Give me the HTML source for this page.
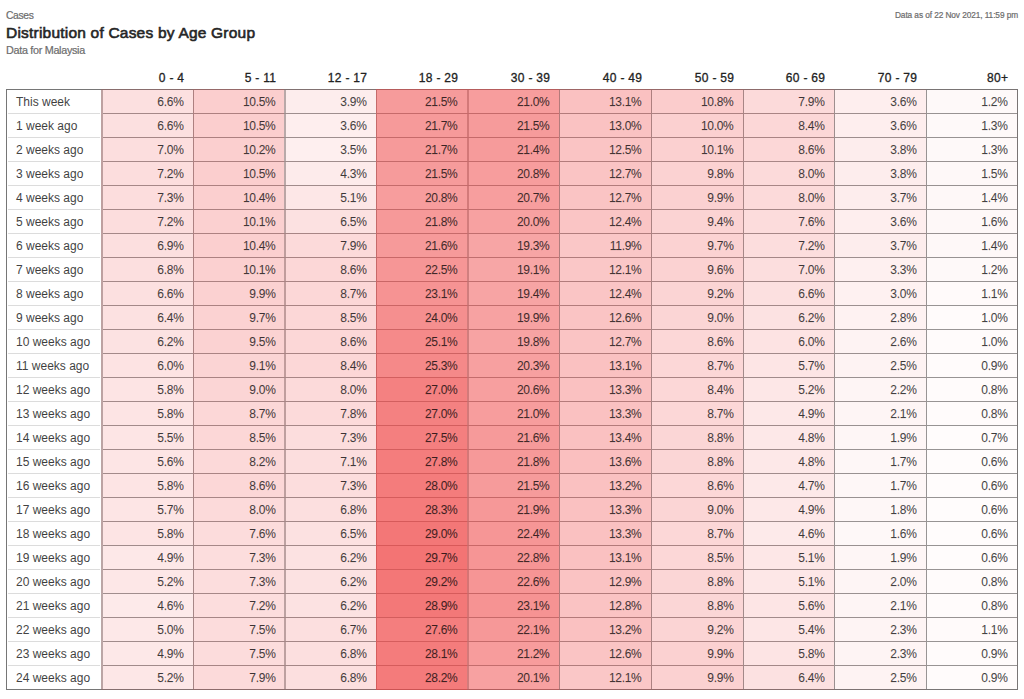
<!DOCTYPE html><html><head><meta charset="utf-8"><style>
html,body{margin:0;padding:0;background:#fff;width:1024px;height:699px;overflow:hidden;position:relative;font-family:"Liberation Sans",sans-serif;}
.a{position:absolute;}
.t{position:absolute;white-space:nowrap;line-height:1;}
.cell{position:absolute;}
.num{position:absolute;white-space:nowrap;font-size:12px;line-height:24px;height:24px;text-align:right;color:rgba(0,0,0,0.72);letter-spacing:-0.3px;-webkit-text-stroke:0.25px rgba(0,0,0,0.35);}
.lab{position:absolute;white-space:nowrap;font-size:12px;line-height:24px;height:24px;color:rgba(0,0,0,0.74);left:16px;letter-spacing:0px;-webkit-text-stroke:0.2px rgba(0,0,0,0.3);}
.hd{position:absolute;white-space:nowrap;font-size:12px;font-weight:normal;line-height:14px;text-align:right;color:#222;letter-spacing:0.3px;-webkit-text-stroke:0.3px #222;}
.vl{position:absolute;width:1px;background:rgba(0,0,0,0.40);}
.hl{position:absolute;height:1px;background:rgba(0,0,0,0.38);}
.hll{position:absolute;height:1px;background:#dcdcdc;}
</style></head><body>

<div class="t" style="left:6px;top:11.4px;font-size:10.3px;letter-spacing:-0.35px;color:#6c6c6c;-webkit-text-stroke:0.2px #6c6c6c;">Cases</div>
<div class="t" style="left:6px;top:24.6px;font-size:15.5px;letter-spacing:0.21px;font-weight:normal;color:#262626;-webkit-text-stroke:0.6px #262626;">Distribution of Cases by Age Group</div>
<div class="t" style="left:6px;top:45.2px;font-size:10.8px;letter-spacing:-0.3px;color:#6c6c6c;-webkit-text-stroke:0.2px #6c6c6c;">Data for Malaysia</div>
<div class="t" style="right:6px;top:11px;font-size:8.3px;letter-spacing:-0.085px;color:#6c6c6c;-webkit-text-stroke:0.2px #6c6c6c;">Data as of 22 Nov 2021, 11:59 pm</div>
<div class="a" style="left:6px;top:89px;width:1012px;height:1px;background:#767676"></div>
<div class="a" style="left:6px;top:689px;width:1012px;height:1px;background:#767676"></div>
<div class="a" style="left:6px;top:89px;width:1px;height:601px;background:#767676"></div>
<div class="a" style="left:1017px;top:89px;width:1px;height:601px;background:#767676"></div>
<div class="a" style="left:101px;top:90px;width:2px;height:599px;background:#b4b4b4"></div>
<div class="a" style="left:193px;top:90px;width:1px;height:599px;background:#969696"></div>
<div class="a" style="left:284px;top:90px;width:2px;height:599px;background:#b4b4b4"></div>
<div class="a" style="left:376px;top:90px;width:1px;height:599px;background:#969696"></div>
<div class="a" style="left:467px;top:90px;width:2px;height:599px;background:#b4b4b4"></div>
<div class="a" style="left:559px;top:90px;width:1px;height:599px;background:#969696"></div>
<div class="a" style="left:651px;top:90px;width:1px;height:599px;background:#969696"></div>
<div class="a" style="left:743px;top:90px;width:1px;height:599px;background:#969696"></div>
<div class="a" style="left:834px;top:90px;width:1px;height:599px;background:#969696"></div>
<div class="a" style="left:926px;top:90px;width:1px;height:599px;background:#969696"></div>
<div class="a" style="left:8px;top:113px;width:92px;height:1px;background:#dcdcdc"></div>
<div class="a" style="left:103px;top:113px;width:914px;height:1px;background:#969696"></div>
<div class="a" style="left:8px;top:137px;width:92px;height:1px;background:#dcdcdc"></div>
<div class="a" style="left:103px;top:137px;width:914px;height:1px;background:#969696"></div>
<div class="a" style="left:8px;top:161px;width:92px;height:1px;background:#dcdcdc"></div>
<div class="a" style="left:103px;top:161px;width:914px;height:1px;background:#969696"></div>
<div class="a" style="left:8px;top:185px;width:92px;height:1px;background:#dcdcdc"></div>
<div class="a" style="left:103px;top:185px;width:914px;height:1px;background:#969696"></div>
<div class="a" style="left:8px;top:209px;width:92px;height:1px;background:#dcdcdc"></div>
<div class="a" style="left:103px;top:209px;width:914px;height:1px;background:#969696"></div>
<div class="a" style="left:8px;top:233px;width:92px;height:1px;background:#dcdcdc"></div>
<div class="a" style="left:103px;top:233px;width:914px;height:1px;background:#969696"></div>
<div class="a" style="left:8px;top:257px;width:92px;height:1px;background:#dcdcdc"></div>
<div class="a" style="left:103px;top:257px;width:914px;height:1px;background:#969696"></div>
<div class="a" style="left:8px;top:281px;width:92px;height:1px;background:#dcdcdc"></div>
<div class="a" style="left:103px;top:281px;width:914px;height:1px;background:#969696"></div>
<div class="a" style="left:8px;top:305px;width:92px;height:1px;background:#dcdcdc"></div>
<div class="a" style="left:103px;top:305px;width:914px;height:1px;background:#969696"></div>
<div class="a" style="left:8px;top:329px;width:92px;height:1px;background:#dcdcdc"></div>
<div class="a" style="left:103px;top:329px;width:914px;height:1px;background:#969696"></div>
<div class="a" style="left:8px;top:353px;width:92px;height:1px;background:#dcdcdc"></div>
<div class="a" style="left:103px;top:353px;width:914px;height:1px;background:#969696"></div>
<div class="a" style="left:8px;top:377px;width:92px;height:1px;background:#dcdcdc"></div>
<div class="a" style="left:103px;top:377px;width:914px;height:1px;background:#969696"></div>
<div class="a" style="left:8px;top:401px;width:92px;height:1px;background:#dcdcdc"></div>
<div class="a" style="left:103px;top:401px;width:914px;height:1px;background:#969696"></div>
<div class="a" style="left:8px;top:425px;width:92px;height:1px;background:#dcdcdc"></div>
<div class="a" style="left:103px;top:425px;width:914px;height:1px;background:#969696"></div>
<div class="a" style="left:8px;top:449px;width:92px;height:1px;background:#dcdcdc"></div>
<div class="a" style="left:103px;top:449px;width:914px;height:1px;background:#969696"></div>
<div class="a" style="left:8px;top:473px;width:92px;height:1px;background:#dcdcdc"></div>
<div class="a" style="left:103px;top:473px;width:914px;height:1px;background:#969696"></div>
<div class="a" style="left:8px;top:497px;width:92px;height:1px;background:#dcdcdc"></div>
<div class="a" style="left:103px;top:497px;width:914px;height:1px;background:#969696"></div>
<div class="a" style="left:8px;top:521px;width:92px;height:1px;background:#dcdcdc"></div>
<div class="a" style="left:103px;top:521px;width:914px;height:1px;background:#969696"></div>
<div class="a" style="left:8px;top:545px;width:92px;height:1px;background:#dcdcdc"></div>
<div class="a" style="left:103px;top:545px;width:914px;height:1px;background:#969696"></div>
<div class="a" style="left:8px;top:569px;width:92px;height:1px;background:#dcdcdc"></div>
<div class="a" style="left:103px;top:569px;width:914px;height:1px;background:#969696"></div>
<div class="a" style="left:8px;top:593px;width:92px;height:1px;background:#dcdcdc"></div>
<div class="a" style="left:103px;top:593px;width:914px;height:1px;background:#969696"></div>
<div class="a" style="left:8px;top:617px;width:92px;height:1px;background:#dcdcdc"></div>
<div class="a" style="left:103px;top:617px;width:914px;height:1px;background:#969696"></div>
<div class="a" style="left:8px;top:641px;width:92px;height:1px;background:#dcdcdc"></div>
<div class="a" style="left:103px;top:641px;width:914px;height:1px;background:#969696"></div>
<div class="a" style="left:8px;top:665px;width:92px;height:1px;background:#dcdcdc"></div>
<div class="a" style="left:103px;top:665px;width:914px;height:1px;background:#969696"></div>
<div class="a" style="left:101px;top:89px;width:92px;height:24px;background:rgba(239,68,68,0.1650)"></div>
<div class="a" style="left:193px;top:89px;width:91px;height:24px;background:rgba(239,68,68,0.2625)"></div>
<div class="a" style="left:284px;top:89px;width:92px;height:24px;background:rgba(239,68,68,0.0975)"></div>
<div class="a" style="left:376px;top:89px;width:91px;height:24px;background:rgba(239,68,68,0.5375)"></div>
<div class="a" style="left:467px;top:89px;width:92px;height:24px;background:rgba(239,68,68,0.5250)"></div>
<div class="a" style="left:559px;top:89px;width:92px;height:24px;background:rgba(239,68,68,0.3275)"></div>
<div class="a" style="left:651px;top:89px;width:92px;height:24px;background:rgba(239,68,68,0.2700)"></div>
<div class="a" style="left:743px;top:89px;width:91px;height:24px;background:rgba(239,68,68,0.1975)"></div>
<div class="a" style="left:834px;top:89px;width:92px;height:24px;background:rgba(239,68,68,0.0900)"></div>
<div class="a" style="left:926px;top:89px;width:92px;height:24px;background:rgba(239,68,68,0.0300)"></div>
<div class="a" style="left:101px;top:113px;width:92px;height:24px;background:rgba(239,68,68,0.1650)"></div>
<div class="a" style="left:193px;top:113px;width:91px;height:24px;background:rgba(239,68,68,0.2625)"></div>
<div class="a" style="left:284px;top:113px;width:92px;height:24px;background:rgba(239,68,68,0.0900)"></div>
<div class="a" style="left:376px;top:113px;width:91px;height:24px;background:rgba(239,68,68,0.5425)"></div>
<div class="a" style="left:467px;top:113px;width:92px;height:24px;background:rgba(239,68,68,0.5375)"></div>
<div class="a" style="left:559px;top:113px;width:92px;height:24px;background:rgba(239,68,68,0.3250)"></div>
<div class="a" style="left:651px;top:113px;width:92px;height:24px;background:rgba(239,68,68,0.2500)"></div>
<div class="a" style="left:743px;top:113px;width:91px;height:24px;background:rgba(239,68,68,0.2100)"></div>
<div class="a" style="left:834px;top:113px;width:92px;height:24px;background:rgba(239,68,68,0.0900)"></div>
<div class="a" style="left:926px;top:113px;width:92px;height:24px;background:rgba(239,68,68,0.0325)"></div>
<div class="a" style="left:101px;top:137px;width:92px;height:24px;background:rgba(239,68,68,0.1750)"></div>
<div class="a" style="left:193px;top:137px;width:91px;height:24px;background:rgba(239,68,68,0.2550)"></div>
<div class="a" style="left:284px;top:137px;width:92px;height:24px;background:rgba(239,68,68,0.0875)"></div>
<div class="a" style="left:376px;top:137px;width:91px;height:24px;background:rgba(239,68,68,0.5425)"></div>
<div class="a" style="left:467px;top:137px;width:92px;height:24px;background:rgba(239,68,68,0.5350)"></div>
<div class="a" style="left:559px;top:137px;width:92px;height:24px;background:rgba(239,68,68,0.3125)"></div>
<div class="a" style="left:651px;top:137px;width:92px;height:24px;background:rgba(239,68,68,0.2525)"></div>
<div class="a" style="left:743px;top:137px;width:91px;height:24px;background:rgba(239,68,68,0.2150)"></div>
<div class="a" style="left:834px;top:137px;width:92px;height:24px;background:rgba(239,68,68,0.0950)"></div>
<div class="a" style="left:926px;top:137px;width:92px;height:24px;background:rgba(239,68,68,0.0325)"></div>
<div class="a" style="left:101px;top:161px;width:92px;height:24px;background:rgba(239,68,68,0.1800)"></div>
<div class="a" style="left:193px;top:161px;width:91px;height:24px;background:rgba(239,68,68,0.2625)"></div>
<div class="a" style="left:284px;top:161px;width:92px;height:24px;background:rgba(239,68,68,0.1075)"></div>
<div class="a" style="left:376px;top:161px;width:91px;height:24px;background:rgba(239,68,68,0.5375)"></div>
<div class="a" style="left:467px;top:161px;width:92px;height:24px;background:rgba(239,68,68,0.5200)"></div>
<div class="a" style="left:559px;top:161px;width:92px;height:24px;background:rgba(239,68,68,0.3175)"></div>
<div class="a" style="left:651px;top:161px;width:92px;height:24px;background:rgba(239,68,68,0.2450)"></div>
<div class="a" style="left:743px;top:161px;width:91px;height:24px;background:rgba(239,68,68,0.2000)"></div>
<div class="a" style="left:834px;top:161px;width:92px;height:24px;background:rgba(239,68,68,0.0950)"></div>
<div class="a" style="left:926px;top:161px;width:92px;height:24px;background:rgba(239,68,68,0.0375)"></div>
<div class="a" style="left:101px;top:185px;width:92px;height:24px;background:rgba(239,68,68,0.1825)"></div>
<div class="a" style="left:193px;top:185px;width:91px;height:24px;background:rgba(239,68,68,0.2600)"></div>
<div class="a" style="left:284px;top:185px;width:92px;height:24px;background:rgba(239,68,68,0.1275)"></div>
<div class="a" style="left:376px;top:185px;width:91px;height:24px;background:rgba(239,68,68,0.5200)"></div>
<div class="a" style="left:467px;top:185px;width:92px;height:24px;background:rgba(239,68,68,0.5175)"></div>
<div class="a" style="left:559px;top:185px;width:92px;height:24px;background:rgba(239,68,68,0.3175)"></div>
<div class="a" style="left:651px;top:185px;width:92px;height:24px;background:rgba(239,68,68,0.2475)"></div>
<div class="a" style="left:743px;top:185px;width:91px;height:24px;background:rgba(239,68,68,0.2000)"></div>
<div class="a" style="left:834px;top:185px;width:92px;height:24px;background:rgba(239,68,68,0.0925)"></div>
<div class="a" style="left:926px;top:185px;width:92px;height:24px;background:rgba(239,68,68,0.0350)"></div>
<div class="a" style="left:101px;top:209px;width:92px;height:24px;background:rgba(239,68,68,0.1800)"></div>
<div class="a" style="left:193px;top:209px;width:91px;height:24px;background:rgba(239,68,68,0.2525)"></div>
<div class="a" style="left:284px;top:209px;width:92px;height:24px;background:rgba(239,68,68,0.1625)"></div>
<div class="a" style="left:376px;top:209px;width:91px;height:24px;background:rgba(239,68,68,0.5450)"></div>
<div class="a" style="left:467px;top:209px;width:92px;height:24px;background:rgba(239,68,68,0.5000)"></div>
<div class="a" style="left:559px;top:209px;width:92px;height:24px;background:rgba(239,68,68,0.3100)"></div>
<div class="a" style="left:651px;top:209px;width:92px;height:24px;background:rgba(239,68,68,0.2350)"></div>
<div class="a" style="left:743px;top:209px;width:91px;height:24px;background:rgba(239,68,68,0.1900)"></div>
<div class="a" style="left:834px;top:209px;width:92px;height:24px;background:rgba(239,68,68,0.0900)"></div>
<div class="a" style="left:926px;top:209px;width:92px;height:24px;background:rgba(239,68,68,0.0400)"></div>
<div class="a" style="left:101px;top:233px;width:92px;height:24px;background:rgba(239,68,68,0.1725)"></div>
<div class="a" style="left:193px;top:233px;width:91px;height:24px;background:rgba(239,68,68,0.2600)"></div>
<div class="a" style="left:284px;top:233px;width:92px;height:24px;background:rgba(239,68,68,0.1975)"></div>
<div class="a" style="left:376px;top:233px;width:91px;height:24px;background:rgba(239,68,68,0.5400)"></div>
<div class="a" style="left:467px;top:233px;width:92px;height:24px;background:rgba(239,68,68,0.4825)"></div>
<div class="a" style="left:559px;top:233px;width:92px;height:24px;background:rgba(239,68,68,0.2975)"></div>
<div class="a" style="left:651px;top:233px;width:92px;height:24px;background:rgba(239,68,68,0.2425)"></div>
<div class="a" style="left:743px;top:233px;width:91px;height:24px;background:rgba(239,68,68,0.1800)"></div>
<div class="a" style="left:834px;top:233px;width:92px;height:24px;background:rgba(239,68,68,0.0925)"></div>
<div class="a" style="left:926px;top:233px;width:92px;height:24px;background:rgba(239,68,68,0.0350)"></div>
<div class="a" style="left:101px;top:257px;width:92px;height:24px;background:rgba(239,68,68,0.1700)"></div>
<div class="a" style="left:193px;top:257px;width:91px;height:24px;background:rgba(239,68,68,0.2525)"></div>
<div class="a" style="left:284px;top:257px;width:92px;height:24px;background:rgba(239,68,68,0.2150)"></div>
<div class="a" style="left:376px;top:257px;width:91px;height:24px;background:rgba(239,68,68,0.5625)"></div>
<div class="a" style="left:467px;top:257px;width:92px;height:24px;background:rgba(239,68,68,0.4775)"></div>
<div class="a" style="left:559px;top:257px;width:92px;height:24px;background:rgba(239,68,68,0.3025)"></div>
<div class="a" style="left:651px;top:257px;width:92px;height:24px;background:rgba(239,68,68,0.2400)"></div>
<div class="a" style="left:743px;top:257px;width:91px;height:24px;background:rgba(239,68,68,0.1750)"></div>
<div class="a" style="left:834px;top:257px;width:92px;height:24px;background:rgba(239,68,68,0.0825)"></div>
<div class="a" style="left:926px;top:257px;width:92px;height:24px;background:rgba(239,68,68,0.0300)"></div>
<div class="a" style="left:101px;top:281px;width:92px;height:24px;background:rgba(239,68,68,0.1650)"></div>
<div class="a" style="left:193px;top:281px;width:91px;height:24px;background:rgba(239,68,68,0.2475)"></div>
<div class="a" style="left:284px;top:281px;width:92px;height:24px;background:rgba(239,68,68,0.2175)"></div>
<div class="a" style="left:376px;top:281px;width:91px;height:24px;background:rgba(239,68,68,0.5775)"></div>
<div class="a" style="left:467px;top:281px;width:92px;height:24px;background:rgba(239,68,68,0.4850)"></div>
<div class="a" style="left:559px;top:281px;width:92px;height:24px;background:rgba(239,68,68,0.3100)"></div>
<div class="a" style="left:651px;top:281px;width:92px;height:24px;background:rgba(239,68,68,0.2300)"></div>
<div class="a" style="left:743px;top:281px;width:91px;height:24px;background:rgba(239,68,68,0.1650)"></div>
<div class="a" style="left:834px;top:281px;width:92px;height:24px;background:rgba(239,68,68,0.0750)"></div>
<div class="a" style="left:926px;top:281px;width:92px;height:24px;background:rgba(239,68,68,0.0275)"></div>
<div class="a" style="left:101px;top:305px;width:92px;height:24px;background:rgba(239,68,68,0.1600)"></div>
<div class="a" style="left:193px;top:305px;width:91px;height:24px;background:rgba(239,68,68,0.2425)"></div>
<div class="a" style="left:284px;top:305px;width:92px;height:24px;background:rgba(239,68,68,0.2125)"></div>
<div class="a" style="left:376px;top:305px;width:91px;height:24px;background:rgba(239,68,68,0.6000)"></div>
<div class="a" style="left:467px;top:305px;width:92px;height:24px;background:rgba(239,68,68,0.4975)"></div>
<div class="a" style="left:559px;top:305px;width:92px;height:24px;background:rgba(239,68,68,0.3150)"></div>
<div class="a" style="left:651px;top:305px;width:92px;height:24px;background:rgba(239,68,68,0.2250)"></div>
<div class="a" style="left:743px;top:305px;width:91px;height:24px;background:rgba(239,68,68,0.1550)"></div>
<div class="a" style="left:834px;top:305px;width:92px;height:24px;background:rgba(239,68,68,0.0700)"></div>
<div class="a" style="left:926px;top:305px;width:92px;height:24px;background:rgba(239,68,68,0.0250)"></div>
<div class="a" style="left:101px;top:329px;width:92px;height:24px;background:rgba(239,68,68,0.1550)"></div>
<div class="a" style="left:193px;top:329px;width:91px;height:24px;background:rgba(239,68,68,0.2375)"></div>
<div class="a" style="left:284px;top:329px;width:92px;height:24px;background:rgba(239,68,68,0.2150)"></div>
<div class="a" style="left:376px;top:329px;width:91px;height:24px;background:rgba(239,68,68,0.6275)"></div>
<div class="a" style="left:467px;top:329px;width:92px;height:24px;background:rgba(239,68,68,0.4950)"></div>
<div class="a" style="left:559px;top:329px;width:92px;height:24px;background:rgba(239,68,68,0.3175)"></div>
<div class="a" style="left:651px;top:329px;width:92px;height:24px;background:rgba(239,68,68,0.2150)"></div>
<div class="a" style="left:743px;top:329px;width:91px;height:24px;background:rgba(239,68,68,0.1500)"></div>
<div class="a" style="left:834px;top:329px;width:92px;height:24px;background:rgba(239,68,68,0.0650)"></div>
<div class="a" style="left:926px;top:329px;width:92px;height:24px;background:rgba(239,68,68,0.0250)"></div>
<div class="a" style="left:101px;top:353px;width:92px;height:24px;background:rgba(239,68,68,0.1500)"></div>
<div class="a" style="left:193px;top:353px;width:91px;height:24px;background:rgba(239,68,68,0.2275)"></div>
<div class="a" style="left:284px;top:353px;width:92px;height:24px;background:rgba(239,68,68,0.2100)"></div>
<div class="a" style="left:376px;top:353px;width:91px;height:24px;background:rgba(239,68,68,0.6325)"></div>
<div class="a" style="left:467px;top:353px;width:92px;height:24px;background:rgba(239,68,68,0.5075)"></div>
<div class="a" style="left:559px;top:353px;width:92px;height:24px;background:rgba(239,68,68,0.3275)"></div>
<div class="a" style="left:651px;top:353px;width:92px;height:24px;background:rgba(239,68,68,0.2175)"></div>
<div class="a" style="left:743px;top:353px;width:91px;height:24px;background:rgba(239,68,68,0.1425)"></div>
<div class="a" style="left:834px;top:353px;width:92px;height:24px;background:rgba(239,68,68,0.0625)"></div>
<div class="a" style="left:926px;top:353px;width:92px;height:24px;background:rgba(239,68,68,0.0225)"></div>
<div class="a" style="left:101px;top:377px;width:92px;height:24px;background:rgba(239,68,68,0.1450)"></div>
<div class="a" style="left:193px;top:377px;width:91px;height:24px;background:rgba(239,68,68,0.2250)"></div>
<div class="a" style="left:284px;top:377px;width:92px;height:24px;background:rgba(239,68,68,0.2000)"></div>
<div class="a" style="left:376px;top:377px;width:91px;height:24px;background:rgba(239,68,68,0.6750)"></div>
<div class="a" style="left:467px;top:377px;width:92px;height:24px;background:rgba(239,68,68,0.5150)"></div>
<div class="a" style="left:559px;top:377px;width:92px;height:24px;background:rgba(239,68,68,0.3325)"></div>
<div class="a" style="left:651px;top:377px;width:92px;height:24px;background:rgba(239,68,68,0.2100)"></div>
<div class="a" style="left:743px;top:377px;width:91px;height:24px;background:rgba(239,68,68,0.1300)"></div>
<div class="a" style="left:834px;top:377px;width:92px;height:24px;background:rgba(239,68,68,0.0550)"></div>
<div class="a" style="left:926px;top:377px;width:92px;height:24px;background:rgba(239,68,68,0.0200)"></div>
<div class="a" style="left:101px;top:401px;width:92px;height:24px;background:rgba(239,68,68,0.1450)"></div>
<div class="a" style="left:193px;top:401px;width:91px;height:24px;background:rgba(239,68,68,0.2175)"></div>
<div class="a" style="left:284px;top:401px;width:92px;height:24px;background:rgba(239,68,68,0.1950)"></div>
<div class="a" style="left:376px;top:401px;width:91px;height:24px;background:rgba(239,68,68,0.6750)"></div>
<div class="a" style="left:467px;top:401px;width:92px;height:24px;background:rgba(239,68,68,0.5250)"></div>
<div class="a" style="left:559px;top:401px;width:92px;height:24px;background:rgba(239,68,68,0.3325)"></div>
<div class="a" style="left:651px;top:401px;width:92px;height:24px;background:rgba(239,68,68,0.2175)"></div>
<div class="a" style="left:743px;top:401px;width:91px;height:24px;background:rgba(239,68,68,0.1225)"></div>
<div class="a" style="left:834px;top:401px;width:92px;height:24px;background:rgba(239,68,68,0.0525)"></div>
<div class="a" style="left:926px;top:401px;width:92px;height:24px;background:rgba(239,68,68,0.0200)"></div>
<div class="a" style="left:101px;top:425px;width:92px;height:24px;background:rgba(239,68,68,0.1375)"></div>
<div class="a" style="left:193px;top:425px;width:91px;height:24px;background:rgba(239,68,68,0.2125)"></div>
<div class="a" style="left:284px;top:425px;width:92px;height:24px;background:rgba(239,68,68,0.1825)"></div>
<div class="a" style="left:376px;top:425px;width:91px;height:24px;background:rgba(239,68,68,0.6875)"></div>
<div class="a" style="left:467px;top:425px;width:92px;height:24px;background:rgba(239,68,68,0.5400)"></div>
<div class="a" style="left:559px;top:425px;width:92px;height:24px;background:rgba(239,68,68,0.3350)"></div>
<div class="a" style="left:651px;top:425px;width:92px;height:24px;background:rgba(239,68,68,0.2200)"></div>
<div class="a" style="left:743px;top:425px;width:91px;height:24px;background:rgba(239,68,68,0.1200)"></div>
<div class="a" style="left:834px;top:425px;width:92px;height:24px;background:rgba(239,68,68,0.0475)"></div>
<div class="a" style="left:926px;top:425px;width:92px;height:24px;background:rgba(239,68,68,0.0175)"></div>
<div class="a" style="left:101px;top:449px;width:92px;height:24px;background:rgba(239,68,68,0.1400)"></div>
<div class="a" style="left:193px;top:449px;width:91px;height:24px;background:rgba(239,68,68,0.2050)"></div>
<div class="a" style="left:284px;top:449px;width:92px;height:24px;background:rgba(239,68,68,0.1775)"></div>
<div class="a" style="left:376px;top:449px;width:91px;height:24px;background:rgba(239,68,68,0.6950)"></div>
<div class="a" style="left:467px;top:449px;width:92px;height:24px;background:rgba(239,68,68,0.5450)"></div>
<div class="a" style="left:559px;top:449px;width:92px;height:24px;background:rgba(239,68,68,0.3400)"></div>
<div class="a" style="left:651px;top:449px;width:92px;height:24px;background:rgba(239,68,68,0.2200)"></div>
<div class="a" style="left:743px;top:449px;width:91px;height:24px;background:rgba(239,68,68,0.1200)"></div>
<div class="a" style="left:834px;top:449px;width:92px;height:24px;background:rgba(239,68,68,0.0425)"></div>
<div class="a" style="left:926px;top:449px;width:92px;height:24px;background:rgba(239,68,68,0.0150)"></div>
<div class="a" style="left:101px;top:473px;width:92px;height:24px;background:rgba(239,68,68,0.1450)"></div>
<div class="a" style="left:193px;top:473px;width:91px;height:24px;background:rgba(239,68,68,0.2150)"></div>
<div class="a" style="left:284px;top:473px;width:92px;height:24px;background:rgba(239,68,68,0.1825)"></div>
<div class="a" style="left:376px;top:473px;width:91px;height:24px;background:rgba(239,68,68,0.7000)"></div>
<div class="a" style="left:467px;top:473px;width:92px;height:24px;background:rgba(239,68,68,0.5375)"></div>
<div class="a" style="left:559px;top:473px;width:92px;height:24px;background:rgba(239,68,68,0.3300)"></div>
<div class="a" style="left:651px;top:473px;width:92px;height:24px;background:rgba(239,68,68,0.2150)"></div>
<div class="a" style="left:743px;top:473px;width:91px;height:24px;background:rgba(239,68,68,0.1175)"></div>
<div class="a" style="left:834px;top:473px;width:92px;height:24px;background:rgba(239,68,68,0.0425)"></div>
<div class="a" style="left:926px;top:473px;width:92px;height:24px;background:rgba(239,68,68,0.0150)"></div>
<div class="a" style="left:101px;top:497px;width:92px;height:24px;background:rgba(239,68,68,0.1425)"></div>
<div class="a" style="left:193px;top:497px;width:91px;height:24px;background:rgba(239,68,68,0.2000)"></div>
<div class="a" style="left:284px;top:497px;width:92px;height:24px;background:rgba(239,68,68,0.1700)"></div>
<div class="a" style="left:376px;top:497px;width:91px;height:24px;background:rgba(239,68,68,0.7075)"></div>
<div class="a" style="left:467px;top:497px;width:92px;height:24px;background:rgba(239,68,68,0.5475)"></div>
<div class="a" style="left:559px;top:497px;width:92px;height:24px;background:rgba(239,68,68,0.3325)"></div>
<div class="a" style="left:651px;top:497px;width:92px;height:24px;background:rgba(239,68,68,0.2250)"></div>
<div class="a" style="left:743px;top:497px;width:91px;height:24px;background:rgba(239,68,68,0.1225)"></div>
<div class="a" style="left:834px;top:497px;width:92px;height:24px;background:rgba(239,68,68,0.0450)"></div>
<div class="a" style="left:926px;top:497px;width:92px;height:24px;background:rgba(239,68,68,0.0150)"></div>
<div class="a" style="left:101px;top:521px;width:92px;height:24px;background:rgba(239,68,68,0.1450)"></div>
<div class="a" style="left:193px;top:521px;width:91px;height:24px;background:rgba(239,68,68,0.1900)"></div>
<div class="a" style="left:284px;top:521px;width:92px;height:24px;background:rgba(239,68,68,0.1625)"></div>
<div class="a" style="left:376px;top:521px;width:91px;height:24px;background:rgba(239,68,68,0.7250)"></div>
<div class="a" style="left:467px;top:521px;width:92px;height:24px;background:rgba(239,68,68,0.5600)"></div>
<div class="a" style="left:559px;top:521px;width:92px;height:24px;background:rgba(239,68,68,0.3325)"></div>
<div class="a" style="left:651px;top:521px;width:92px;height:24px;background:rgba(239,68,68,0.2175)"></div>
<div class="a" style="left:743px;top:521px;width:91px;height:24px;background:rgba(239,68,68,0.1150)"></div>
<div class="a" style="left:834px;top:521px;width:92px;height:24px;background:rgba(239,68,68,0.0400)"></div>
<div class="a" style="left:926px;top:521px;width:92px;height:24px;background:rgba(239,68,68,0.0150)"></div>
<div class="a" style="left:101px;top:545px;width:92px;height:24px;background:rgba(239,68,68,0.1225)"></div>
<div class="a" style="left:193px;top:545px;width:91px;height:24px;background:rgba(239,68,68,0.1825)"></div>
<div class="a" style="left:284px;top:545px;width:92px;height:24px;background:rgba(239,68,68,0.1550)"></div>
<div class="a" style="left:376px;top:545px;width:91px;height:24px;background:rgba(239,68,68,0.7425)"></div>
<div class="a" style="left:467px;top:545px;width:92px;height:24px;background:rgba(239,68,68,0.5700)"></div>
<div class="a" style="left:559px;top:545px;width:92px;height:24px;background:rgba(239,68,68,0.3275)"></div>
<div class="a" style="left:651px;top:545px;width:92px;height:24px;background:rgba(239,68,68,0.2125)"></div>
<div class="a" style="left:743px;top:545px;width:91px;height:24px;background:rgba(239,68,68,0.1275)"></div>
<div class="a" style="left:834px;top:545px;width:92px;height:24px;background:rgba(239,68,68,0.0475)"></div>
<div class="a" style="left:926px;top:545px;width:92px;height:24px;background:rgba(239,68,68,0.0150)"></div>
<div class="a" style="left:101px;top:569px;width:92px;height:24px;background:rgba(239,68,68,0.1300)"></div>
<div class="a" style="left:193px;top:569px;width:91px;height:24px;background:rgba(239,68,68,0.1825)"></div>
<div class="a" style="left:284px;top:569px;width:92px;height:24px;background:rgba(239,68,68,0.1550)"></div>
<div class="a" style="left:376px;top:569px;width:91px;height:24px;background:rgba(239,68,68,0.7300)"></div>
<div class="a" style="left:467px;top:569px;width:92px;height:24px;background:rgba(239,68,68,0.5650)"></div>
<div class="a" style="left:559px;top:569px;width:92px;height:24px;background:rgba(239,68,68,0.3225)"></div>
<div class="a" style="left:651px;top:569px;width:92px;height:24px;background:rgba(239,68,68,0.2200)"></div>
<div class="a" style="left:743px;top:569px;width:91px;height:24px;background:rgba(239,68,68,0.1275)"></div>
<div class="a" style="left:834px;top:569px;width:92px;height:24px;background:rgba(239,68,68,0.0500)"></div>
<div class="a" style="left:926px;top:569px;width:92px;height:24px;background:rgba(239,68,68,0.0200)"></div>
<div class="a" style="left:101px;top:593px;width:92px;height:24px;background:rgba(239,68,68,0.1150)"></div>
<div class="a" style="left:193px;top:593px;width:91px;height:24px;background:rgba(239,68,68,0.1800)"></div>
<div class="a" style="left:284px;top:593px;width:92px;height:24px;background:rgba(239,68,68,0.1550)"></div>
<div class="a" style="left:376px;top:593px;width:91px;height:24px;background:rgba(239,68,68,0.7225)"></div>
<div class="a" style="left:467px;top:593px;width:92px;height:24px;background:rgba(239,68,68,0.5775)"></div>
<div class="a" style="left:559px;top:593px;width:92px;height:24px;background:rgba(239,68,68,0.3200)"></div>
<div class="a" style="left:651px;top:593px;width:92px;height:24px;background:rgba(239,68,68,0.2200)"></div>
<div class="a" style="left:743px;top:593px;width:91px;height:24px;background:rgba(239,68,68,0.1400)"></div>
<div class="a" style="left:834px;top:593px;width:92px;height:24px;background:rgba(239,68,68,0.0525)"></div>
<div class="a" style="left:926px;top:593px;width:92px;height:24px;background:rgba(239,68,68,0.0200)"></div>
<div class="a" style="left:101px;top:617px;width:92px;height:24px;background:rgba(239,68,68,0.1250)"></div>
<div class="a" style="left:193px;top:617px;width:91px;height:24px;background:rgba(239,68,68,0.1875)"></div>
<div class="a" style="left:284px;top:617px;width:92px;height:24px;background:rgba(239,68,68,0.1675)"></div>
<div class="a" style="left:376px;top:617px;width:91px;height:24px;background:rgba(239,68,68,0.6900)"></div>
<div class="a" style="left:467px;top:617px;width:92px;height:24px;background:rgba(239,68,68,0.5525)"></div>
<div class="a" style="left:559px;top:617px;width:92px;height:24px;background:rgba(239,68,68,0.3300)"></div>
<div class="a" style="left:651px;top:617px;width:92px;height:24px;background:rgba(239,68,68,0.2300)"></div>
<div class="a" style="left:743px;top:617px;width:91px;height:24px;background:rgba(239,68,68,0.1350)"></div>
<div class="a" style="left:834px;top:617px;width:92px;height:24px;background:rgba(239,68,68,0.0575)"></div>
<div class="a" style="left:926px;top:617px;width:92px;height:24px;background:rgba(239,68,68,0.0275)"></div>
<div class="a" style="left:101px;top:641px;width:92px;height:24px;background:rgba(239,68,68,0.1225)"></div>
<div class="a" style="left:193px;top:641px;width:91px;height:24px;background:rgba(239,68,68,0.1875)"></div>
<div class="a" style="left:284px;top:641px;width:92px;height:24px;background:rgba(239,68,68,0.1700)"></div>
<div class="a" style="left:376px;top:641px;width:91px;height:24px;background:rgba(239,68,68,0.7025)"></div>
<div class="a" style="left:467px;top:641px;width:92px;height:24px;background:rgba(239,68,68,0.5300)"></div>
<div class="a" style="left:559px;top:641px;width:92px;height:24px;background:rgba(239,68,68,0.3150)"></div>
<div class="a" style="left:651px;top:641px;width:92px;height:24px;background:rgba(239,68,68,0.2475)"></div>
<div class="a" style="left:743px;top:641px;width:91px;height:24px;background:rgba(239,68,68,0.1450)"></div>
<div class="a" style="left:834px;top:641px;width:92px;height:24px;background:rgba(239,68,68,0.0575)"></div>
<div class="a" style="left:926px;top:641px;width:92px;height:24px;background:rgba(239,68,68,0.0225)"></div>
<div class="a" style="left:101px;top:665px;width:92px;height:25px;background:rgba(239,68,68,0.1300)"></div>
<div class="a" style="left:193px;top:665px;width:91px;height:25px;background:rgba(239,68,68,0.1975)"></div>
<div class="a" style="left:284px;top:665px;width:92px;height:25px;background:rgba(239,68,68,0.1700)"></div>
<div class="a" style="left:376px;top:665px;width:91px;height:25px;background:rgba(239,68,68,0.7050)"></div>
<div class="a" style="left:467px;top:665px;width:92px;height:25px;background:rgba(239,68,68,0.5025)"></div>
<div class="a" style="left:559px;top:665px;width:92px;height:25px;background:rgba(239,68,68,0.3025)"></div>
<div class="a" style="left:651px;top:665px;width:92px;height:25px;background:rgba(239,68,68,0.2475)"></div>
<div class="a" style="left:743px;top:665px;width:91px;height:25px;background:rgba(239,68,68,0.1600)"></div>
<div class="a" style="left:834px;top:665px;width:92px;height:25px;background:rgba(239,68,68,0.0625)"></div>
<div class="a" style="left:926px;top:665px;width:92px;height:25px;background:rgba(239,68,68,0.0225)"></div>
<div class="hd" style="top:71px;right:839.7px;">0 - 4</div>
<div class="hd" style="top:71px;right:747.7px;">5 - 11</div>
<div class="hd" style="top:71px;right:656.7px;">12 - 17</div>
<div class="hd" style="top:71px;right:565.7px;">18 - 29</div>
<div class="hd" style="top:71px;right:473.7px;">30 - 39</div>
<div class="hd" style="top:71px;right:381.7px;">40 - 49</div>
<div class="hd" style="top:71px;right:289.7px;">50 - 59</div>
<div class="hd" style="top:71px;right:198.7px;">60 - 69</div>
<div class="hd" style="top:71px;right:106.7px;">70 - 79</div>
<div class="hd" style="top:71px;right:15.7px;">80+</div>
<div class="lab" style="top:90px;">This week</div>
<div class="num" style="top:90px;right:840.5px;">6.6%</div>
<div class="num" style="top:90px;right:748.5px;">10.5%</div>
<div class="num" style="top:90px;right:657.5px;">3.9%</div>
<div class="num" style="top:90px;right:566.5px;">21.5%</div>
<div class="num" style="top:90px;right:474.5px;">21.0%</div>
<div class="num" style="top:90px;right:382.5px;">13.1%</div>
<div class="num" style="top:90px;right:290.5px;">10.8%</div>
<div class="num" style="top:90px;right:199.5px;">7.9%</div>
<div class="num" style="top:90px;right:107.5px;">3.6%</div>
<div class="num" style="top:90px;right:16.5px;">1.2%</div>
<div class="lab" style="top:114px;">1 week ago</div>
<div class="num" style="top:114px;right:840.5px;">6.6%</div>
<div class="num" style="top:114px;right:748.5px;">10.5%</div>
<div class="num" style="top:114px;right:657.5px;">3.6%</div>
<div class="num" style="top:114px;right:566.5px;">21.7%</div>
<div class="num" style="top:114px;right:474.5px;">21.5%</div>
<div class="num" style="top:114px;right:382.5px;">13.0%</div>
<div class="num" style="top:114px;right:290.5px;">10.0%</div>
<div class="num" style="top:114px;right:199.5px;">8.4%</div>
<div class="num" style="top:114px;right:107.5px;">3.6%</div>
<div class="num" style="top:114px;right:16.5px;">1.3%</div>
<div class="lab" style="top:138px;">2 weeks ago</div>
<div class="num" style="top:138px;right:840.5px;">7.0%</div>
<div class="num" style="top:138px;right:748.5px;">10.2%</div>
<div class="num" style="top:138px;right:657.5px;">3.5%</div>
<div class="num" style="top:138px;right:566.5px;">21.7%</div>
<div class="num" style="top:138px;right:474.5px;">21.4%</div>
<div class="num" style="top:138px;right:382.5px;">12.5%</div>
<div class="num" style="top:138px;right:290.5px;">10.1%</div>
<div class="num" style="top:138px;right:199.5px;">8.6%</div>
<div class="num" style="top:138px;right:107.5px;">3.8%</div>
<div class="num" style="top:138px;right:16.5px;">1.3%</div>
<div class="lab" style="top:162px;">3 weeks ago</div>
<div class="num" style="top:162px;right:840.5px;">7.2%</div>
<div class="num" style="top:162px;right:748.5px;">10.5%</div>
<div class="num" style="top:162px;right:657.5px;">4.3%</div>
<div class="num" style="top:162px;right:566.5px;">21.5%</div>
<div class="num" style="top:162px;right:474.5px;">20.8%</div>
<div class="num" style="top:162px;right:382.5px;">12.7%</div>
<div class="num" style="top:162px;right:290.5px;">9.8%</div>
<div class="num" style="top:162px;right:199.5px;">8.0%</div>
<div class="num" style="top:162px;right:107.5px;">3.8%</div>
<div class="num" style="top:162px;right:16.5px;">1.5%</div>
<div class="lab" style="top:186px;">4 weeks ago</div>
<div class="num" style="top:186px;right:840.5px;">7.3%</div>
<div class="num" style="top:186px;right:748.5px;">10.4%</div>
<div class="num" style="top:186px;right:657.5px;">5.1%</div>
<div class="num" style="top:186px;right:566.5px;">20.8%</div>
<div class="num" style="top:186px;right:474.5px;">20.7%</div>
<div class="num" style="top:186px;right:382.5px;">12.7%</div>
<div class="num" style="top:186px;right:290.5px;">9.9%</div>
<div class="num" style="top:186px;right:199.5px;">8.0%</div>
<div class="num" style="top:186px;right:107.5px;">3.7%</div>
<div class="num" style="top:186px;right:16.5px;">1.4%</div>
<div class="lab" style="top:210px;">5 weeks ago</div>
<div class="num" style="top:210px;right:840.5px;">7.2%</div>
<div class="num" style="top:210px;right:748.5px;">10.1%</div>
<div class="num" style="top:210px;right:657.5px;">6.5%</div>
<div class="num" style="top:210px;right:566.5px;">21.8%</div>
<div class="num" style="top:210px;right:474.5px;">20.0%</div>
<div class="num" style="top:210px;right:382.5px;">12.4%</div>
<div class="num" style="top:210px;right:290.5px;">9.4%</div>
<div class="num" style="top:210px;right:199.5px;">7.6%</div>
<div class="num" style="top:210px;right:107.5px;">3.6%</div>
<div class="num" style="top:210px;right:16.5px;">1.6%</div>
<div class="lab" style="top:234px;">6 weeks ago</div>
<div class="num" style="top:234px;right:840.5px;">6.9%</div>
<div class="num" style="top:234px;right:748.5px;">10.4%</div>
<div class="num" style="top:234px;right:657.5px;">7.9%</div>
<div class="num" style="top:234px;right:566.5px;">21.6%</div>
<div class="num" style="top:234px;right:474.5px;">19.3%</div>
<div class="num" style="top:234px;right:382.5px;">11.9%</div>
<div class="num" style="top:234px;right:290.5px;">9.7%</div>
<div class="num" style="top:234px;right:199.5px;">7.2%</div>
<div class="num" style="top:234px;right:107.5px;">3.7%</div>
<div class="num" style="top:234px;right:16.5px;">1.4%</div>
<div class="lab" style="top:258px;">7 weeks ago</div>
<div class="num" style="top:258px;right:840.5px;">6.8%</div>
<div class="num" style="top:258px;right:748.5px;">10.1%</div>
<div class="num" style="top:258px;right:657.5px;">8.6%</div>
<div class="num" style="top:258px;right:566.5px;">22.5%</div>
<div class="num" style="top:258px;right:474.5px;">19.1%</div>
<div class="num" style="top:258px;right:382.5px;">12.1%</div>
<div class="num" style="top:258px;right:290.5px;">9.6%</div>
<div class="num" style="top:258px;right:199.5px;">7.0%</div>
<div class="num" style="top:258px;right:107.5px;">3.3%</div>
<div class="num" style="top:258px;right:16.5px;">1.2%</div>
<div class="lab" style="top:282px;">8 weeks ago</div>
<div class="num" style="top:282px;right:840.5px;">6.6%</div>
<div class="num" style="top:282px;right:748.5px;">9.9%</div>
<div class="num" style="top:282px;right:657.5px;">8.7%</div>
<div class="num" style="top:282px;right:566.5px;">23.1%</div>
<div class="num" style="top:282px;right:474.5px;">19.4%</div>
<div class="num" style="top:282px;right:382.5px;">12.4%</div>
<div class="num" style="top:282px;right:290.5px;">9.2%</div>
<div class="num" style="top:282px;right:199.5px;">6.6%</div>
<div class="num" style="top:282px;right:107.5px;">3.0%</div>
<div class="num" style="top:282px;right:16.5px;">1.1%</div>
<div class="lab" style="top:306px;">9 weeks ago</div>
<div class="num" style="top:306px;right:840.5px;">6.4%</div>
<div class="num" style="top:306px;right:748.5px;">9.7%</div>
<div class="num" style="top:306px;right:657.5px;">8.5%</div>
<div class="num" style="top:306px;right:566.5px;">24.0%</div>
<div class="num" style="top:306px;right:474.5px;">19.9%</div>
<div class="num" style="top:306px;right:382.5px;">12.6%</div>
<div class="num" style="top:306px;right:290.5px;">9.0%</div>
<div class="num" style="top:306px;right:199.5px;">6.2%</div>
<div class="num" style="top:306px;right:107.5px;">2.8%</div>
<div class="num" style="top:306px;right:16.5px;">1.0%</div>
<div class="lab" style="top:330px;">10 weeks ago</div>
<div class="num" style="top:330px;right:840.5px;">6.2%</div>
<div class="num" style="top:330px;right:748.5px;">9.5%</div>
<div class="num" style="top:330px;right:657.5px;">8.6%</div>
<div class="num" style="top:330px;right:566.5px;">25.1%</div>
<div class="num" style="top:330px;right:474.5px;">19.8%</div>
<div class="num" style="top:330px;right:382.5px;">12.7%</div>
<div class="num" style="top:330px;right:290.5px;">8.6%</div>
<div class="num" style="top:330px;right:199.5px;">6.0%</div>
<div class="num" style="top:330px;right:107.5px;">2.6%</div>
<div class="num" style="top:330px;right:16.5px;">1.0%</div>
<div class="lab" style="top:354px;">11 weeks ago</div>
<div class="num" style="top:354px;right:840.5px;">6.0%</div>
<div class="num" style="top:354px;right:748.5px;">9.1%</div>
<div class="num" style="top:354px;right:657.5px;">8.4%</div>
<div class="num" style="top:354px;right:566.5px;">25.3%</div>
<div class="num" style="top:354px;right:474.5px;">20.3%</div>
<div class="num" style="top:354px;right:382.5px;">13.1%</div>
<div class="num" style="top:354px;right:290.5px;">8.7%</div>
<div class="num" style="top:354px;right:199.5px;">5.7%</div>
<div class="num" style="top:354px;right:107.5px;">2.5%</div>
<div class="num" style="top:354px;right:16.5px;">0.9%</div>
<div class="lab" style="top:378px;">12 weeks ago</div>
<div class="num" style="top:378px;right:840.5px;">5.8%</div>
<div class="num" style="top:378px;right:748.5px;">9.0%</div>
<div class="num" style="top:378px;right:657.5px;">8.0%</div>
<div class="num" style="top:378px;right:566.5px;">27.0%</div>
<div class="num" style="top:378px;right:474.5px;">20.6%</div>
<div class="num" style="top:378px;right:382.5px;">13.3%</div>
<div class="num" style="top:378px;right:290.5px;">8.4%</div>
<div class="num" style="top:378px;right:199.5px;">5.2%</div>
<div class="num" style="top:378px;right:107.5px;">2.2%</div>
<div class="num" style="top:378px;right:16.5px;">0.8%</div>
<div class="lab" style="top:402px;">13 weeks ago</div>
<div class="num" style="top:402px;right:840.5px;">5.8%</div>
<div class="num" style="top:402px;right:748.5px;">8.7%</div>
<div class="num" style="top:402px;right:657.5px;">7.8%</div>
<div class="num" style="top:402px;right:566.5px;">27.0%</div>
<div class="num" style="top:402px;right:474.5px;">21.0%</div>
<div class="num" style="top:402px;right:382.5px;">13.3%</div>
<div class="num" style="top:402px;right:290.5px;">8.7%</div>
<div class="num" style="top:402px;right:199.5px;">4.9%</div>
<div class="num" style="top:402px;right:107.5px;">2.1%</div>
<div class="num" style="top:402px;right:16.5px;">0.8%</div>
<div class="lab" style="top:426px;">14 weeks ago</div>
<div class="num" style="top:426px;right:840.5px;">5.5%</div>
<div class="num" style="top:426px;right:748.5px;">8.5%</div>
<div class="num" style="top:426px;right:657.5px;">7.3%</div>
<div class="num" style="top:426px;right:566.5px;">27.5%</div>
<div class="num" style="top:426px;right:474.5px;">21.6%</div>
<div class="num" style="top:426px;right:382.5px;">13.4%</div>
<div class="num" style="top:426px;right:290.5px;">8.8%</div>
<div class="num" style="top:426px;right:199.5px;">4.8%</div>
<div class="num" style="top:426px;right:107.5px;">1.9%</div>
<div class="num" style="top:426px;right:16.5px;">0.7%</div>
<div class="lab" style="top:450px;">15 weeks ago</div>
<div class="num" style="top:450px;right:840.5px;">5.6%</div>
<div class="num" style="top:450px;right:748.5px;">8.2%</div>
<div class="num" style="top:450px;right:657.5px;">7.1%</div>
<div class="num" style="top:450px;right:566.5px;">27.8%</div>
<div class="num" style="top:450px;right:474.5px;">21.8%</div>
<div class="num" style="top:450px;right:382.5px;">13.6%</div>
<div class="num" style="top:450px;right:290.5px;">8.8%</div>
<div class="num" style="top:450px;right:199.5px;">4.8%</div>
<div class="num" style="top:450px;right:107.5px;">1.7%</div>
<div class="num" style="top:450px;right:16.5px;">0.6%</div>
<div class="lab" style="top:474px;">16 weeks ago</div>
<div class="num" style="top:474px;right:840.5px;">5.8%</div>
<div class="num" style="top:474px;right:748.5px;">8.6%</div>
<div class="num" style="top:474px;right:657.5px;">7.3%</div>
<div class="num" style="top:474px;right:566.5px;">28.0%</div>
<div class="num" style="top:474px;right:474.5px;">21.5%</div>
<div class="num" style="top:474px;right:382.5px;">13.2%</div>
<div class="num" style="top:474px;right:290.5px;">8.6%</div>
<div class="num" style="top:474px;right:199.5px;">4.7%</div>
<div class="num" style="top:474px;right:107.5px;">1.7%</div>
<div class="num" style="top:474px;right:16.5px;">0.6%</div>
<div class="lab" style="top:498px;">17 weeks ago</div>
<div class="num" style="top:498px;right:840.5px;">5.7%</div>
<div class="num" style="top:498px;right:748.5px;">8.0%</div>
<div class="num" style="top:498px;right:657.5px;">6.8%</div>
<div class="num" style="top:498px;right:566.5px;">28.3%</div>
<div class="num" style="top:498px;right:474.5px;">21.9%</div>
<div class="num" style="top:498px;right:382.5px;">13.3%</div>
<div class="num" style="top:498px;right:290.5px;">9.0%</div>
<div class="num" style="top:498px;right:199.5px;">4.9%</div>
<div class="num" style="top:498px;right:107.5px;">1.8%</div>
<div class="num" style="top:498px;right:16.5px;">0.6%</div>
<div class="lab" style="top:522px;">18 weeks ago</div>
<div class="num" style="top:522px;right:840.5px;">5.8%</div>
<div class="num" style="top:522px;right:748.5px;">7.6%</div>
<div class="num" style="top:522px;right:657.5px;">6.5%</div>
<div class="num" style="top:522px;right:566.5px;">29.0%</div>
<div class="num" style="top:522px;right:474.5px;">22.4%</div>
<div class="num" style="top:522px;right:382.5px;">13.3%</div>
<div class="num" style="top:522px;right:290.5px;">8.7%</div>
<div class="num" style="top:522px;right:199.5px;">4.6%</div>
<div class="num" style="top:522px;right:107.5px;">1.6%</div>
<div class="num" style="top:522px;right:16.5px;">0.6%</div>
<div class="lab" style="top:546px;">19 weeks ago</div>
<div class="num" style="top:546px;right:840.5px;">4.9%</div>
<div class="num" style="top:546px;right:748.5px;">7.3%</div>
<div class="num" style="top:546px;right:657.5px;">6.2%</div>
<div class="num" style="top:546px;right:566.5px;">29.7%</div>
<div class="num" style="top:546px;right:474.5px;">22.8%</div>
<div class="num" style="top:546px;right:382.5px;">13.1%</div>
<div class="num" style="top:546px;right:290.5px;">8.5%</div>
<div class="num" style="top:546px;right:199.5px;">5.1%</div>
<div class="num" style="top:546px;right:107.5px;">1.9%</div>
<div class="num" style="top:546px;right:16.5px;">0.6%</div>
<div class="lab" style="top:570px;">20 weeks ago</div>
<div class="num" style="top:570px;right:840.5px;">5.2%</div>
<div class="num" style="top:570px;right:748.5px;">7.3%</div>
<div class="num" style="top:570px;right:657.5px;">6.2%</div>
<div class="num" style="top:570px;right:566.5px;">29.2%</div>
<div class="num" style="top:570px;right:474.5px;">22.6%</div>
<div class="num" style="top:570px;right:382.5px;">12.9%</div>
<div class="num" style="top:570px;right:290.5px;">8.8%</div>
<div class="num" style="top:570px;right:199.5px;">5.1%</div>
<div class="num" style="top:570px;right:107.5px;">2.0%</div>
<div class="num" style="top:570px;right:16.5px;">0.8%</div>
<div class="lab" style="top:594px;">21 weeks ago</div>
<div class="num" style="top:594px;right:840.5px;">4.6%</div>
<div class="num" style="top:594px;right:748.5px;">7.2%</div>
<div class="num" style="top:594px;right:657.5px;">6.2%</div>
<div class="num" style="top:594px;right:566.5px;">28.9%</div>
<div class="num" style="top:594px;right:474.5px;">23.1%</div>
<div class="num" style="top:594px;right:382.5px;">12.8%</div>
<div class="num" style="top:594px;right:290.5px;">8.8%</div>
<div class="num" style="top:594px;right:199.5px;">5.6%</div>
<div class="num" style="top:594px;right:107.5px;">2.1%</div>
<div class="num" style="top:594px;right:16.5px;">0.8%</div>
<div class="lab" style="top:618px;">22 weeks ago</div>
<div class="num" style="top:618px;right:840.5px;">5.0%</div>
<div class="num" style="top:618px;right:748.5px;">7.5%</div>
<div class="num" style="top:618px;right:657.5px;">6.7%</div>
<div class="num" style="top:618px;right:566.5px;">27.6%</div>
<div class="num" style="top:618px;right:474.5px;">22.1%</div>
<div class="num" style="top:618px;right:382.5px;">13.2%</div>
<div class="num" style="top:618px;right:290.5px;">9.2%</div>
<div class="num" style="top:618px;right:199.5px;">5.4%</div>
<div class="num" style="top:618px;right:107.5px;">2.3%</div>
<div class="num" style="top:618px;right:16.5px;">1.1%</div>
<div class="lab" style="top:642px;">23 weeks ago</div>
<div class="num" style="top:642px;right:840.5px;">4.9%</div>
<div class="num" style="top:642px;right:748.5px;">7.5%</div>
<div class="num" style="top:642px;right:657.5px;">6.8%</div>
<div class="num" style="top:642px;right:566.5px;">28.1%</div>
<div class="num" style="top:642px;right:474.5px;">21.2%</div>
<div class="num" style="top:642px;right:382.5px;">12.6%</div>
<div class="num" style="top:642px;right:290.5px;">9.9%</div>
<div class="num" style="top:642px;right:199.5px;">5.8%</div>
<div class="num" style="top:642px;right:107.5px;">2.3%</div>
<div class="num" style="top:642px;right:16.5px;">0.9%</div>
<div class="lab" style="top:666px;">24 weeks ago</div>
<div class="num" style="top:666px;right:840.5px;">5.2%</div>
<div class="num" style="top:666px;right:748.5px;">7.9%</div>
<div class="num" style="top:666px;right:657.5px;">6.8%</div>
<div class="num" style="top:666px;right:566.5px;">28.2%</div>
<div class="num" style="top:666px;right:474.5px;">20.1%</div>
<div class="num" style="top:666px;right:382.5px;">12.1%</div>
<div class="num" style="top:666px;right:290.5px;">9.9%</div>
<div class="num" style="top:666px;right:199.5px;">6.4%</div>
<div class="num" style="top:666px;right:107.5px;">2.5%</div>
<div class="num" style="top:666px;right:16.5px;">0.9%</div>
</body></html>
